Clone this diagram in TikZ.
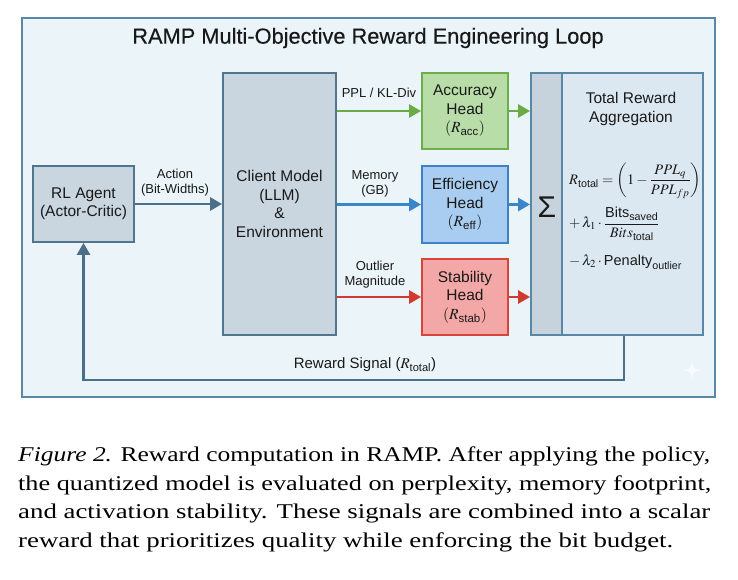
\documentclass[tikz,border=0pt]{standalone}
\usepackage{amsmath}
\usepackage{graphicx}
\usepackage{mathptmx}
\usepackage{fontspec}
\setmainfont{Liberation Serif}
\setsansfont{Liberation Sans}
\newfontfamily\titlefont[FakeBold=0.4]{Liberation Sans}
\usetikzlibrary{arrows.meta,calc}
\definecolor{framefill}{HTML}{EBF5F9}
\definecolor{framedraw}{HTML}{5B87A6}
\definecolor{greyfill}{HTML}{C9D5DF}
\definecolor{greydraw}{HTML}{52758E}
\definecolor{accfill}{HTML}{B9DDA8}
\definecolor{accdraw}{HTML}{6CAE4C}
\definecolor{effill}{HTML}{A8CDF0}
\definecolor{efdraw}{HTML}{3C82C6}
\definecolor{stfill}{HTML}{F3A7A6}
\definecolor{stdraw}{HTML}{D8433A}
\definecolor{totfill}{HTML}{DCE8F1}
\definecolor{sigfill}{HTML}{C6D3DD}
\definecolor{arrdark}{HTML}{4B6F89}
\definecolor{arrgreen}{HTML}{6AAB46}
\definecolor{arrblue}{HTML}{3B86C9}
\definecolor{arrred}{HTML}{CF3B31}
\newcommand{\capline}[2]{\resizebox{#1}{19.6pt}{\fontsize{21}{28}\selectfont\rmfamily\strut #2}}
\tikzset{
  boxbase/.style={rectangle, line width=1.8pt, align=center, inner sep=2pt,
    font=\fontsize{15.5}{18.5}\selectfont\sffamily, text=black!90},
  greybox/.style={boxbase, fill=greyfill, draw=greydraw},
  accbox/.style={boxbase, fill=accfill, draw=accdraw},
  effbox/.style={boxbase, fill=effill, draw=efdraw},
  stabbox/.style={boxbase, fill=stfill, draw=stdraw},
  lbl/.style={align=center, inner sep=0pt, font=\fontsize{13}{15}\selectfont\sffamily, text=black!90},
  fml/.style={inner sep=0pt, font=\fontsize{14.5}{16}\selectfont\sffamily, text=black!90},
  capnode/.style={anchor=base west, inner sep=0pt, text=black},
  conn/.style={line width=2.6pt, -{Triangle[length=12pt,width=13pt]}},
  darkarr/.style={conn, draw=arrdark},
  greenarr/.style={conn, draw=arrgreen},
  bluearr/.style={conn, draw=arrblue},
  redarr/.style={conn, draw=arrred}
}
\begin{document}
\begin{tikzpicture}[x=1pt,y=-1pt]
\useasboundingbox (0,0) rectangle (738,580);
\fill[white] (0,0) rectangle (738,580);
% frame
\draw[line width=1.8pt, draw=framedraw, fill=framefill] (22,18) rectangle (715,397);
\node[inner sep=0pt, font=\fontsize{21.8}{24}\selectfont\titlefont, text=black!90] (title) at (368,38) {RAMP Multi-Objective Reward Engineering Loop};
% sparkle watermark
\fill[white, opacity=0.6] (692,359) .. controls (693,369) .. (703,370) .. controls (693,371) .. (692,381) .. controls (691,371) .. (681,370) .. controls (691,369) .. (692,359) -- cycle;
% boxes
\node[greybox, minimum width=101pt, minimum height=76pt] (agent) at (83.5,204) {RL Agent\\(Actor-Critic)};
\node[greybox, minimum width=113pt, minimum height=262pt] (client) at (279.5,204) {Client Model\\(LLM)\\\&\\Environment};
\node[accbox, minimum width=86pt, minimum height=76pt] (acc) at (465,111) {Accuracy\\Head\\$(R_{\text{acc}})$};
\node[effbox, minimum width=86pt, minimum height=77pt] (eff) at (465,204.5) {Efficiency\\Head\\$(R_{\text{eff}})$};
\node[stabbox, minimum width=86pt, minimum height=76pt] (stab) at (465,297) {Stability\\Head\\$(R_{\text{stab}})$};
\node[rectangle, line width=1.8pt, draw=framedraw, fill=totfill, minimum width=141pt, minimum height=262pt] (total) at (632.5,204) {};
\node[rectangle, line width=1.8pt, draw=framedraw, fill=sigfill, minimum width=31pt, minimum height=262pt, inner sep=0pt] (sig) at (546.5,204) {};
\node[inner sep=0pt, font=\fontsize{30}{30}\selectfont\sffamily, text=black!90] (sigma) at (547,207) {Σ};
% total reward text
\node[lbl, font=\fontsize{15.5}{18.5}\selectfont\sffamily] (tothead) at (631,109) {Total Reward\\Aggregation};
\node[fml, anchor=west] (f1) at (569,181) {$R_{\text{total}} = \left(1 - \dfrac{PPL_q}{PPL_{fp}}\right)$};
\node[fml, anchor=west] (f2) at (569,224) {$+\,\lambda_1\cdot\dfrac{\text{Bits}_{\text{saved}}}{Bits_{\text{total}}}$};
\node[fml, anchor=west] (f3) at (569,262) {$-\,\lambda_2\cdot\text{Penalty}_{\text{outlier}}$};
% labels
\node[lbl] (lact) at (175,183) {Action\\(Bit-Widths)};
\node[lbl] (lppl) at (379,93) {PPL / KL-Div};
\node[lbl] (lmem) at (375,183.5) {Memory\\(GB)};
\node[lbl] (lout) at (375,274.5) {Outlier\\Magnitude};
\node[lbl, font=\fontsize{15}{17}\selectfont\sffamily] (lrew) at (365,365) {Reward Signal ($R_{\text{total}}$)};
% connectors
\draw[darkarr] (agent.east) -- (client.west |- agent.east);
\draw[greenarr] (client.east |- acc.west) -- (acc.west);
\draw[bluearr] (client.east |- eff.west) -- (eff.west);
\draw[redarr] (client.east |- stab.west) -- (stab.west);
\draw[greenarr] (acc.east) -- (sig.west |- acc.east);
\draw[bluearr] (eff.east) -- (sig.west |- eff.east);
\draw[redarr] (stab.east) -- (sig.west |- stab.east);
\coordinate (fb) at (624,380);
\draw[darkarr] (total.south -| fb) -- (fb) -| (agent.south);
% caption
\node[capnode] (cap1) at (18,461) {\capline{692pt}{\textit{Figure 2.} Reward computation in RAMP. After applying the policy,}};
\node[capnode] (cap2) at (18,490) {\capline{693pt}{the quantized model is evaluated on perplexity, memory footprint,}};
\node[capnode] (cap3) at (18,518.5) {\capline{692pt}{and activation stability. These signals are combined into a scalar}};
\node[capnode] (cap4) at (18,547) {\capline{655pt}{reward that prioritizes quality while enforcing the bit budget.}};
\end{tikzpicture}
\end{document}
